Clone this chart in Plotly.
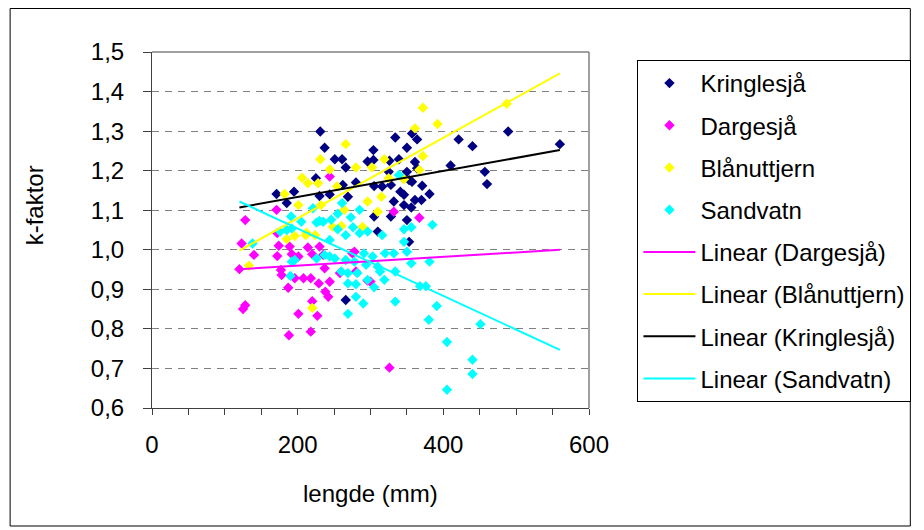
import plotly.graph_objects as go

# ---------------- data ----------------
kring_x = [171, 185, 195, 225, 230, 231, 237, 244, 251, 261, 266, 262, 269, 280, 296, 304, 304, 305, 316,
           328, 325, 326, 334, 339, 350, 357, 364, 361, 364, 350, 353, 371, 341, 346, 381, 357, 410, 421,
           440, 457, 460, 489, 560, 361, 370, 332, 346, 356, 328, 305, 350, 266, 353, 310]
kring_y = [1.141, 1.118, 1.147, 1.181, 1.136, 1.299, 1.258, 1.140, 1.229, 1.229, 1.208, 1.164, 1.134, 1.170,
           1.223, 1.252, 1.227, 1.161, 1.160, 1.164, 1.197, 1.225, 1.284, 1.229, 1.258, 1.294, 1.279, 1.222,
           1.206, 1.197, 1.176, 1.162, 1.147, 1.139, 1.141, 1.172, 1.213, 1.279, 1.262, 1.197, 1.166, 1.299,
           1.267, 1.126, 1.126, 1.122, 1.113, 1.107, 1.084, 1.084, 1.075, 0.873, 1.020, 1.046]

darg_x = [120, 123, 125, 128, 128, 140, 171, 172, 174, 172, 177, 178, 187, 188, 189, 192, 201, 201, 214,
          220, 230, 237, 235, 196, 208, 218, 229, 244, 238, 242, 220, 227, 218, 258, 244, 278, 275, 280,
          296, 300, 332, 367, 326]
darg_y = [0.951, 1.016, 0.850, 0.860, 1.075, 0.987, 1.101, 1.042, 1.010, 0.984, 0.949, 0.936, 0.904, 0.784,
          1.008, 0.989, 0.838, 0.983, 1.006, 0.989, 1.008, 0.953, 0.987, 0.928, 0.928, 0.928, 0.915, 0.919,
          0.894, 0.881, 0.870, 0.833, 0.793, 0.941, 1.185, 0.995, 0.991, 0.945, 0.922, 0.919, 1.096, 1.081,
          0.702]

blaa_x = [133, 182, 185, 196, 201, 206, 214, 228, 231, 232, 244, 254, 266, 264, 280, 289, 248, 260, 296,
          302, 310, 315, 319, 325, 346, 361, 367, 372, 372, 392, 487, 211, 224, 212, 220]
blaa_y = [0.960, 1.141, 1.027, 1.035, 1.113, 1.182, 1.168, 1.168, 1.229, 1.113, 1.203, 1.160, 1.267, 1.101,
          1.208, 1.058, 1.058, 1.060, 1.122, 1.208, 1.096, 1.134, 1.229, 1.181, 1.178, 1.307, 1.202, 1.237,
          1.359, 1.318, 1.369, 1.037, 1.037, 1.043, 0.853]

sand_x = [138, 176, 185, 191, 192, 190, 192, 196, 205, 221, 226, 230, 235, 246, 255, 261, 273, 285, 255,
          266, 244, 276, 285, 296, 316, 346, 356, 385, 346, 350, 320, 332, 291, 303, 226, 237, 244, 251,
          266, 278, 294, 310, 313, 334, 356, 381, 260, 269, 282, 296, 319, 269, 280, 305, 368, 376, 280,
          290, 334, 269, 391, 380, 451, 405, 440, 440, 405, 339]
sand_y = [1.016, 1.046, 1.050, 1.084, 1.054, 0.934, 0.970, 0.974, 1.071, 1.105, 1.069, 1.073, 1.071, 1.076,
          1.091, 1.118, 1.082, 1.101, 1.052, 1.037, 1.025, 1.057, 1.042, 1.046, 1.037, 1.052, 1.057, 1.063,
          1.020, 0.995, 0.991, 0.991, 0.991, 0.983, 0.978, 0.987, 0.983, 0.978, 0.974, 0.970, 0.962, 0.957,
          0.945, 0.945, 0.966, 0.970, 0.945, 0.941, 0.941, 0.924, 0.924, 0.915, 0.913, 0.905, 0.908, 0.908,
          0.881, 0.864, 0.869, 0.838, 0.858, 0.823, 0.812, 0.767, 0.722, 0.686, 0.646, 1.189]

# trendline end points
trend_x = [120, 560]
trend_darg = [0.951, 1.000]
trend_blaa = [0.998, 1.446]
trend_kring = [1.107, 1.252]
trend_sand = [1.122, 0.747]

x_ticks = [0, 200, 400, 600]
y_ticks = [0.6, 0.7, 0.8, 0.9, 1.0, 1.1, 1.2, 1.3, 1.4, 1.5]

FONT = "Arial, Liberation Sans, sans-serif"

fig = go.Figure()

def mk(name, xs, ys, color, grp):
    fig.add_trace(go.Scatter(x=xs, y=ys, mode="markers", name=name, legendgroup=grp,
                             marker=dict(symbol="diamond", size=8, color=color, line=dict(width=0))))

def ln(name, ys, color, grp):
    fig.add_trace(go.Scatter(x=trend_x, y=ys, mode="lines", name=name, legendgroup=grp,
                             line=dict(color=color, width=2)))

mk("Kringlesjå", kring_x, kring_y, "#000080", "g1")
mk("Dargesjå", darg_x, darg_y, "#FF00FF", "g2")
mk("Blånuttjern", blaa_x, blaa_y, "#FFFF00", "g3")
mk("Sandvatn", sand_x, sand_y, "#00FFFF", "g4")
ln("Linear (Dargesjå)", trend_darg, "#FF00FF", "g5")
ln("Linear (Blånuttjern)", trend_blaa, "#FFFF00", "g6")
ln("Linear (Kringlesjå)", trend_kring, "#000000", "g7")
ln("Linear (Sandvatn)", trend_sand, "#00FFFF", "g8")

# page has an 8px body margin -> work in page coordinates and subtract OFF
OFF = 8
W, H = 924 - OFF, 530 - OFF
L, R, T, B = 152 - OFF, 594 - OFF, 52 - OFF, 408 - OFF
pw, ph = R - L, B - T

def px(xp):
    return (xp - OFF - L) / pw

def py(yp):
    return (B - (yp - OFF)) / ph

fig.update_layout(
    width=W, height=H,
    margin=dict(l=L, r=W - R, t=T, b=H - B, pad=0),
    paper_bgcolor="white", plot_bgcolor="white",
    font=dict(family=FONT, size=24, color="black"),
    separators=", ",
    showlegend=True,
    legend=dict(x=px(643), y=py(60), xanchor="left", yanchor="top",
                bordercolor="black", borderwidth=1, bgcolor="white",
                font=dict(family=FONT, size=24, color="black"),
                traceorder="grouped", tracegroupgap=8, itemwidth=52),
    xaxis=dict(range=[0, 600], tickvals=x_ticks, ticks="outside", ticklen=6, tickcolor="#404040",
               showline=True, linecolor="#404040", linewidth=1, showgrid=False, zeroline=False,
               minor=dict(dtick=50, ticks="outside", ticklen=6, tickcolor="#404040", showgrid=False),
               tickfont=dict(size=24), ticklabelstandoff=9),
    yaxis=dict(range=[0.6, 1.5], tickvals=y_ticks, tickformat=".1f", ticks="outside", ticklen=8,
               tickcolor="#404040", showline=True, linecolor="#404040", linewidth=1,
               showgrid=True, gridcolor="#808080", gridwidth=1, griddash="7px,6px", zeroline=False,
               tickfont=dict(size=24), ticklabelstandoff=14),
    shapes=[
        dict(type="line", xref="paper", yref="paper", x0=0, x1=1, y0=1, y1=1,
             line=dict(color="#808080", width=1.5)),
        dict(type="line", xref="paper", yref="paper", x0=1, x1=1, y0=0, y1=1,
             line=dict(color="#808080", width=1.5)),
        dict(type="rect", xref="paper", yref="paper", x0=px(8.5), x1=px(919), y0=py(526), y1=py(8.5),
             line=dict(color="black", width=1)),
    ],
    annotations=[
        dict(text="lengde (mm)", xref="paper", yref="paper", x=px(373), y=py(493),
             xanchor="center", yanchor="middle", showarrow=False, font=dict(size=24)),
        dict(text="k-faktor", xref="paper", yref="paper", x=px(33), y=py(205),
             xanchor="center", yanchor="middle", showarrow=False, textangle=-90, font=dict(size=24)),
    ],
)

fig.write_html("out.html")
